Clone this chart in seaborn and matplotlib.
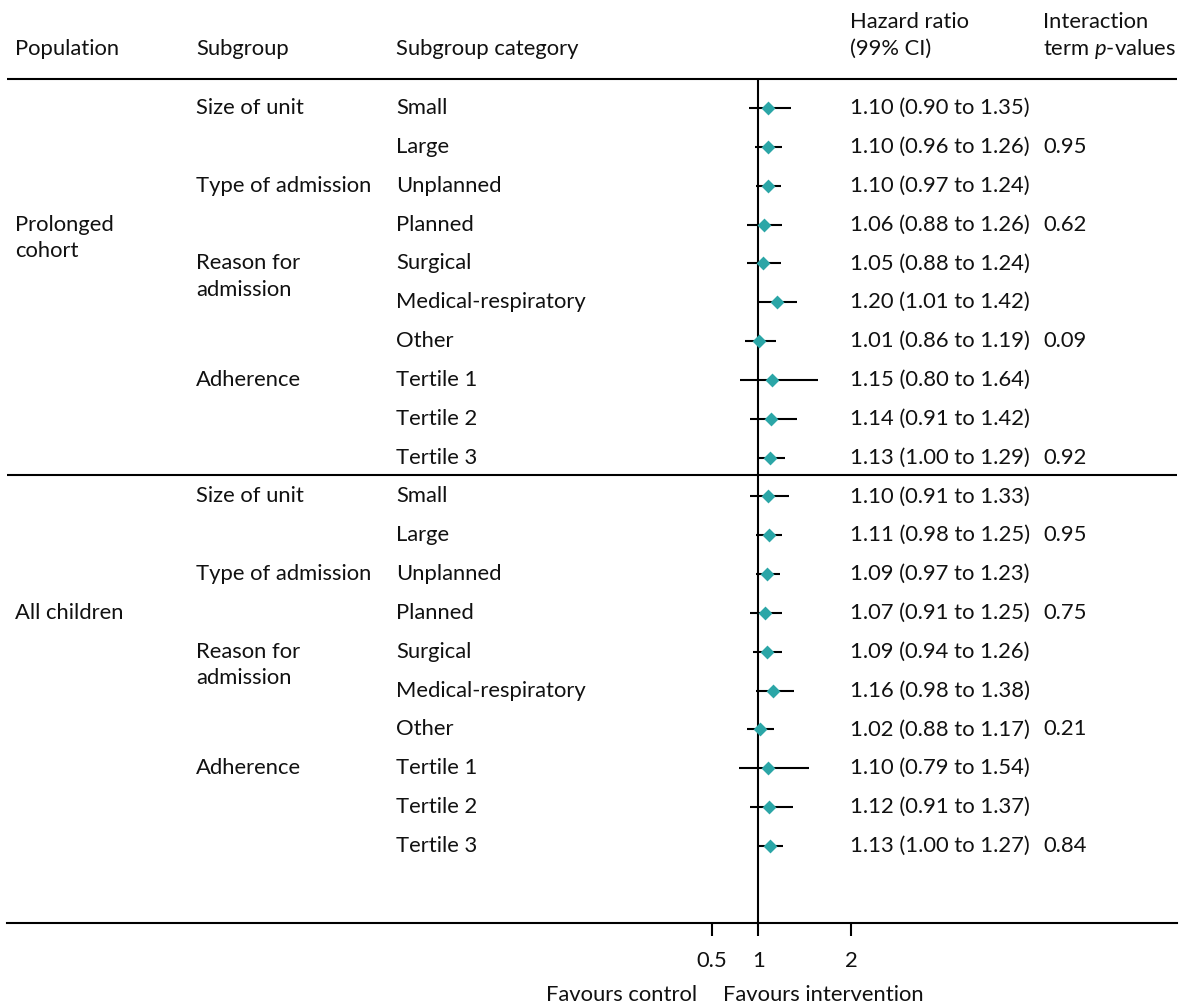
import matplotlib
matplotlib.use("Agg")
import matplotlib.pyplot as plt
import seaborn as sns
import pandas as pd

# Forest plot data
categories = ["Small", "Large", "Unplanned", "Planned", "Surgical",
              "Medical-respiratory", "Other", "Tertile 1", "Tertile 2", "Tertile 3"] * 2
hr = [1.10, 1.10, 1.10, 1.06, 1.05, 1.20, 1.01, 1.15, 1.14, 1.13,
      1.10, 1.11, 1.09, 1.07, 1.09, 1.16, 1.02, 1.10, 1.12, 1.13]
ci_low = [0.90, 0.96, 0.97, 0.88, 0.88, 1.01, 0.86, 0.80, 0.91, 1.00,
          0.91, 0.98, 0.97, 0.91, 0.94, 0.98, 0.88, 0.79, 0.91, 1.00]
ci_high = [1.35, 1.26, 1.24, 1.26, 1.24, 1.42, 1.19, 1.64, 1.42, 1.29,
           1.33, 1.25, 1.23, 1.25, 1.26, 1.38, 1.17, 1.54, 1.37, 1.27]
p_values = ["", "0.95", "", "0.62", "", "", "0.09", "", "", "0.92",
            "", "0.95", "", "0.75", "", "", "0.21", "", "", "0.84"]
subgroups = ["Size of unit", "", "Type of admission", "", "Reason for\nadmission",
             "", "", "Adherence", "", ""] * 2
populations = {3: "Prolonged\ncohort", 13: "All children"}
xticks = [0.5, 1, 2]

df = pd.DataFrame({"row": range(len(hr)), "hr": hr, "lo": ci_low, "hi": ci_high})

sns.set_theme(style="white")
plt.rcParams["font.family"] = ["Lato", "DejaVu Sans"]
plt.rcParams["mathtext.fontset"] = "custom"
plt.rcParams["mathtext.rm"] = "Lato"
plt.rcParams["mathtext.it"] = "Lato:italic"

W, H = 1187, 1006
fig = plt.figure(figsize=(W / 100, H / 100), dpi=100)

# axes spans the table; bottom spine is the bottom rule
ax_left, ax_right, ax_bottom = 7, 1177, 923
ax = fig.add_axes([ax_left / W, (H - ax_bottom) / H, (ax_right - ax_left) / W, ax_bottom / H])

x_one, px_unit = 758.3, 93.0
row0, row_h = 108.0, 38.84


def px2x(px):
    return 1 + (px - x_one) / px_unit


def py2row(py):
    return (py - row0) / row_h


ax.set_xlim(px2x(ax_left), px2x(ax_right))
ax.set_ylim(py2row(ax_bottom), py2row(0))

fs = 15.8
lw = 1.5
txt = "#111111"

# rules
ax.axhline(py2row(79), color="black", lw=lw)
ax.axhline(py2row(475), color="black", lw=lw)
ax.vlines(1, py2row(79), py2row(ax_bottom), color="black", lw=lw)

# CIs and point estimates
ax.hlines(df["row"], df["lo"], df["hi"], color="black", lw=lw, zorder=2)
sns.scatterplot(data=df, x="hr", y="row", marker="D", s=50, color="#2ba6a7",
                linewidth=0, zorder=3, ax=ax, legend=False)

# table columns
for i, row in df.iterrows():
    ax.text(px2x(396), i, categories[i], fontsize=fs, va="center", color=txt)
    ax.text(px2x(850), i, f"{row.hr:.2f} ({row.lo:.2f} to {row.hi:.2f})", fontsize=fs,
            va="center", color=txt)
    if p_values[i]:
        ax.text(px2x(1043), i, p_values[i], fontsize=fs, va="center", color=txt)
    if subgroups[i]:
        for k, line in enumerate(subgroups[i].split("\n")):
            ax.text(px2x(196), i + k * 0.68, line, fontsize=fs, va="center", color=txt)

for r, name in populations.items():
    for k, line in enumerate(name.split("\n")):
        ax.text(px2x(15), r + k * 0.68, line, fontsize=fs, va="center", color=txt)

# headers
hy1, hy2 = py2row(22), py2row(49)
ax.text(px2x(15), hy2, "Population", fontsize=fs, va="center", color=txt)
ax.text(px2x(196), hy2, "Subgroup", fontsize=fs, va="center", color=txt)
ax.text(px2x(396), hy2, "Subgroup category", fontsize=fs, va="center", color=txt)
ax.text(px2x(850), hy1, "Hazard ratio", fontsize=fs, va="center", color=txt)
ax.text(px2x(850), hy2, "(99% CI)", fontsize=fs, va="center", color=txt)
ax.text(px2x(1043), hy1, "Interaction", fontsize=fs, va="center", color=txt)
ax.text(px2x(1043), hy2, "term $p$-values", fontsize=fs, va="center", color=txt)

# axis
for s in ["top", "left", "right"]:
    ax.spines[s].set_visible(False)
ax.spines["bottom"].set_linewidth(lw)
ax.spines["bottom"].set_color("black")
ax.set_xticks(xticks)
ax.set_xticklabels(["0.5", "1", "2"])
ax.set_yticks([])
ax.tick_params(axis="x", direction="out", length=9.5, width=lw, color="black",
               labelsize=fs, labelcolor=txt, pad=11, bottom=True)
ax.set_xlabel("")
ax.set_ylabel("")

fig.text(697 / W, 1 - 995 / H, "Favours control", fontsize=fs, ha="right", va="center", color=txt)
fig.text(723 / W, 1 - 995 / H, "Favours intervention", fontsize=fs, ha="left", va="center", color=txt)

fig.savefig("out.png", dpi=100)
